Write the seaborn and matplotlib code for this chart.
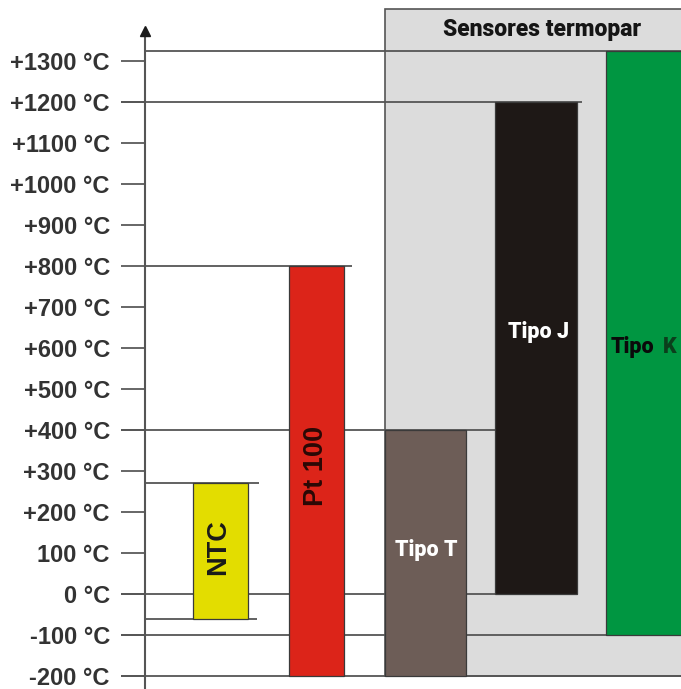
import matplotlib
matplotlib.use("Agg")
import matplotlib.pyplot as plt
from matplotlib.patches import Rectangle
import seaborn as sns

# Data: temperature ranges per sensor (°C)
sensors = ["NTC", "Pt 100", "Tipo T", "Tipo J", "Tipo K"]
t_min = [-60, -200, -200, 0, -100]
t_max = [270, 800, 400, 1200, 1325]
bar_colors = ["#e3dd00", "#dc2419", "#6d5d57", "#1e1816", "#009641"]

tick_values = [1300, 1200, 1100, 1000, 900, 800, 700, 600, 500, 400,
               300, 200, 100, 0, -100, -200]
tick_labels = ["+1300 °C", "+1200 °C", "+1100 °C", "+1000 °C", "+900 °C",
               "+800 °C", "+700 °C", "+600 °C", "+500 °C", "+400 °C",
               "+300 °C", "+200 °C", "100 °C", "0 °C", "-100 °C", "-200 °C"]
group_title = "Sensores termopar"

# Layout (x in pixels measured from the axis line)
bar_left = [48, 144, 240, 350, 461]
bar_width = [55, 55, 81, 82, 100]
X_MAX = 536
TICK = -24

sns.set_theme(style="white")

fig = plt.figure(figsize=(6.81, 6.89), dpi=100)
ax = fig.add_axes([145 / 681, 0, 536 / 681, 1])
ax.set_xlim(0, X_MAX)
ax.set_ylim(-231.7, 1448.8)

for side in ["top", "right", "bottom", "left"]:
    ax.spines[side].set_visible(False)

# gray box for the thermocouple group
ax.add_patch(Rectangle((240, -200), 320, 1627, facecolor="#dcdcdc",
                       edgecolor="#555555", lw=1.2, zorder=1, clip_on=False))
ax.text(397, 1376, group_title, ha="center", va="center", fontsize=16.5,
        fontweight="heavy", family="Roboto", color="#151515", zorder=5)

# guide lines
line_kw = dict(colors="#555555", lw=1.3, zorder=2, clip_on=False)
ax.hlines(t_max[0], 0, bar_left[0] + bar_width[0] + 11, **line_kw)
ax.hlines(t_min[0], 0, bar_left[0] + bar_width[0] + 9, **line_kw)
ax.hlines(t_max[1], 0, bar_left[1] + bar_width[1] + 8, **line_kw)
ax.hlines(t_max[2], TICK, bar_left[3], **line_kw)
ax.hlines(t_max[3], TICK, bar_left[3] + bar_width[3] + 5, **line_kw)
ax.hlines(t_min[3], TICK, bar_left[3], **line_kw)
ax.hlines(t_max[4], 0, X_MAX, **line_kw)
ax.hlines(t_min[4], TICK, X_MAX, **line_kw)
ax.hlines(t_min[1], TICK, X_MAX, **line_kw)

# bars
heights = [hi - lo for lo, hi in zip(t_min, t_max)]
ax.bar(bar_left, heights, width=bar_width, bottom=t_min, align="edge",
       color=bar_colors, edgecolor="#3a3a3a", linewidth=0.9, zorder=3)

# labels inside bars
ax.text(73, 115, sensors[0], rotation=90, ha="center", va="center",
        fontsize=19.5, fontweight="bold", family="Liberation Sans",
        color="#1a1a1a", zorder=5)
ax.text(171, 312, sensors[1], rotation=90, ha="center", va="center",
        fontsize=19.5, fontweight="bold", family="Liberation Sans",
        color="#2a0805", zorder=5)
label_kw = dict(fontsize=15.5, fontweight="heavy", family="Roboto", zorder=5)
ax.text(281, 107, sensors[2], ha="center", va="center", color="white",
        **label_kw)
ax.text(393, 639, sensors[3], ha="center", va="center", color="white",
        **label_kw)
ax.text(466, 602, "Tipo", ha="left", va="center", color="#0a0a0a",
        clip_on=False, **label_kw)
ax.text(518, 602, "K", ha="left", va="center", color="#0b3f1c",
        clip_on=False, **label_kw)

# y axis with arrow
ax.vlines(0, -231.7, 1360, colors="#555555", lw=1.5, zorder=4, clip_on=False)
ax.plot([0], [1372], marker="^", ms=7, color="#1a1a1a", zorder=5,
        clip_on=False)
ax.set_yticks(tick_values)
ax.set_yticklabels(tick_labels)
ax.tick_params(axis="y", left=True, direction="out", length=17.3, width=1.4,
               color="#666666", pad=8, labelsize=17, labelcolor="#333333")
for lbl in ax.get_yticklabels():
    lbl.set_fontweight("bold")
    lbl.set_family("Liberation Sans")
ax.set_xticks([])

fig.savefig("out.png", dpi=100)
